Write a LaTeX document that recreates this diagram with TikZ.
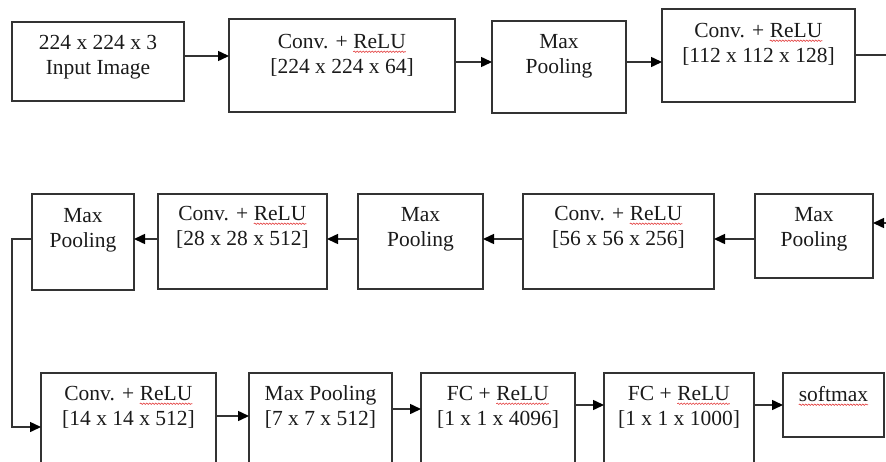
\documentclass[tikz,border=0pt]{standalone}
\usepackage{fontspec}
\setmainfont{Liberation Serif}
\usetikzlibrary{arrows.meta,decorations.pathmorphing}
\definecolor{ink}{HTML}{1A1A1A}
\definecolor{edge}{HTML}{333333}
\definecolor{spell}{HTML}{E23A3A}
% word with a red wavy underline
\newcommand\spellmark[1]{\tikz[baseline=(w.base)]{\node[inner sep=0pt,outer sep=0pt,anchor=base] (w) {#1};\draw[spell,line width=0.6pt,decorate,decoration={snake,amplitude=0.7pt,segment length=3pt}] ([yshift=-3.5pt]w.base west) -- ([yshift=-3.5pt]w.base east);}}
\newcommand\fl{\rule{0pt}{17pt}}
\begin{document}
\begin{tikzpicture}[x=1pt,y=-1pt,
  box/.style={draw=edge,line width=1.5pt,anchor=north west,inner sep=0pt,outer sep=0pt},
  lbl/.style={anchor=north,align=center,inner sep=0pt,text=ink,
    font=\fontsize{21.5}{25.5}\selectfont},
  arr/.style={draw=edge,line width=1.5pt,-{Triangle[length=11pt,width=10pt,color=black]}}]
\useasboundingbox (0,0) rectangle (886,461);
\clip (0,0) rectangle (886,461);

% first row
\node[box,minimum width=172pt,minimum height=79pt] (b1) at (12,22) {};
\node[box,minimum width=226pt,minimum height=93pt] (b2) at (229,19) {};
\node[box,minimum width=134pt,minimum height=92pt] (b3) at (492,21) {};
\node[box,minimum width=193pt,minimum height=93pt] (b4) at (662,9) {};
\node[lbl] (t1) at (b1.north |- 0,32) {\fl 224 x 224 x 3\\Input Image};
\node[lbl] (t2) at (b2.north |- 0,31) {\fl Conv. + \spellmark{ReLU}\\{}[224 x 224 x 64]};
\node[lbl] (t3) at (b3.north |- 0,31) {\fl Max\\Pooling};
\node[lbl] (t4) at (b4.north |- 0,20) {\fl Conv. + \spellmark{ReLU}\\{}[112 x 112 x 128]};

% second row, read right to left
\node[box,minimum width=118pt,minimum height=84pt] (m2) at (755,194) {};
\node[box,minimum width=191pt,minimum height=95pt] (c3) at (523,194) {};
\node[box,minimum width=125pt,minimum height=95pt] (m3) at (358,194) {};
\node[box,minimum width=169pt,minimum height=95pt] (c4) at (158,194) {};
\node[box,minimum width=102pt,minimum height=96pt] (m4) at (32,194) {};
\node[lbl] (t5) at (m2.north |- 0,204) {\fl Max\\Pooling};
\node[lbl] (t6) at (c3.north |- 0,203) {\fl Conv. + \spellmark{ReLU}\\{}[56 x 56 x 256]};
\node[lbl] (t7) at (m3.north |- 0,204) {\fl Max\\Pooling};
\node[lbl] (t8) at (c4.north |- 0,203) {\fl Conv. + \spellmark{ReLU}\\{}[28 x 28 x 512]};
\node[lbl] (t9) at (m4.north |- 0,205) {\fl Max\\Pooling};

% third row
\node[box,minimum width=175pt,minimum height=110pt] (c5) at (41,373) {};
\node[box,minimum width=143pt,minimum height=110pt] (m5) at (249,373) {};
\node[box,minimum width=154pt,minimum height=110pt] (f1) at (421,373) {};
\node[box,minimum width=150pt,minimum height=110pt] (f2) at (604,373) {};
\node[box,minimum width=101pt,minimum height=64pt] (sm) at (783,373) {};
\node[lbl] (t10) at (c5.north |- 0,383) {\fl Conv. + \spellmark{ReLU}\\{}[14 x 14 x 512]};
\node[lbl] (t11) at (m5.north |- 0,383) {\fl Max Pooling\\{}[7 x 7 x 512]};
\node[lbl] (t12) at (f1.north |- 0,383) {\fl FC + \spellmark{ReLU}\\{}[1 x 1 x 4096]};
\node[lbl] (t13) at (f2.north |- 0,383) {\fl FC + \spellmark{ReLU}\\{}[1 x 1 x 1000]};
\node[lbl] (t14) at (sm.north |- 0,384) {\fl \spellmark{softmax}};

% connectors
\draw[arr] (b1.east |- 0,56) -- (b2.west |- 0,56);
\draw[arr] (b2.east |- 0,62) -- (b3.west |- 0,62);
\draw[arr] (b3.east |- 0,62) -- (b4.west |- 0,62);
\draw[arr] (b4.east |- 0,55) -- (905,55) |- (m2.east |- 0,223);
\draw[arr] (m2.west |- 0,239) -- (c3.east |- 0,239);
\draw[arr] (c3.west |- 0,239) -- (m3.east |- 0,239);
\draw[arr] (m3.west |- 0,239) -- (c4.east |- 0,239);
\draw[arr] (c4.west |- 0,239) -- (m4.east |- 0,239);
\draw[arr] (m4.west |- 0,239) -- (12,239) |- (c5.west |- 0,427);
\draw[arr] (c5.east |- 0,416) -- (m5.west |- 0,416);
\draw[arr] (m5.east |- 0,409) -- (f1.west |- 0,409);
\draw[arr] (f1.east |- 0,405) -- (f2.west |- 0,405);
\draw[arr] (f2.east |- 0,405) -- (sm.west |- 0,405);
\end{tikzpicture}
\end{document}
